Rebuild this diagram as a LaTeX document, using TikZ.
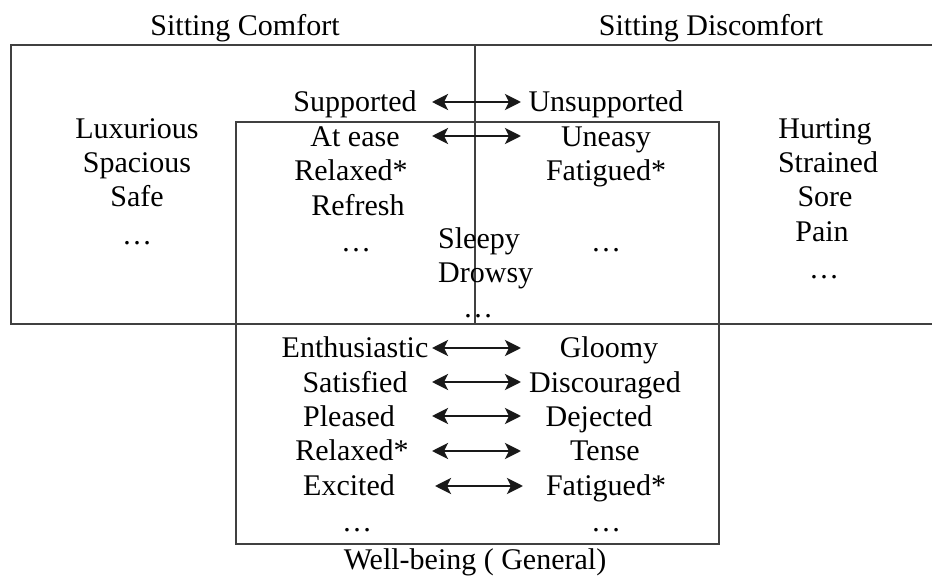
\documentclass[tikz,border=0pt]{standalone}
\usepackage{fontspec}
\setmainfont{Liberation Serif}
\usepackage{xcolor}
\usepackage{tikz}
\usetikzlibrary{arrows.meta}
\tikzstyle{term} = [anchor=base, inner sep=0pt, text=black]
\tikzstyle{frame} = [draw=black!75, line width=2pt]
\tikzstyle{arrow} = [line width=2.8pt, draw=black!90, {Stealth[length=16pt,width=16pt,inset=4pt]}-{Stealth[length=16pt,width=16pt,inset=4pt]}]

\begin{document}
\begin{tikzpicture}[x=1pt, y=-1pt, font=\fontsize{30}{36}\selectfont]
  \useasboundingbox (0,0) rectangle (932,577);

  % frames
  \draw [frame] (932,45) -- (11,45) -- (11,324) -- (932,324);
  \draw [frame] (475,45) -- (475,324);
  \draw [frame] (236,122) rectangle (719,544);

  % headings
  \node (comfort) [term] at (245,36) {Sitting Comfort};
  \node (discomfort) [term] at (711,36) {Sitting Discomfort};
  \node (wellbeing) [term] at (475,569) {Well-being ( General)};

  % sitting comfort only
  \node (luxurious) [term] at (137,139) {Luxurious};
  \node (spacious) [term] at (137,173) {Spacious};
  \node (safe) [term] at (137,207) {Safe};
  \node (comf dots) [term] at (137,245) {\dots};

  % sitting discomfort only
  \node (hurting) [term] at (825,139) {Hurting};
  \node (strained) [term] at (828,173) {Strained};
  \node (sore) [term] at (825,207) {Sore};
  \node (pain) [term] at (822,242) {Pain};
  \node (disc dots) [term] at (824,279) {\dots};

  % comfort / discomfort pairs
  \node (supported) [term] at (355,112) {Supported};
  \node (unsupported) [term] at (606,112) {Unsupported};
  \node (at ease) [term] at (355,147) {At ease};
  \node (uneasy) [term] at (606,147) {Uneasy};
  \node (relaxed a) [term] at (351,181) {Relaxed*};
  \node (fatigued a) [term] at (606,181) {Fatigued*};
  \node (refresh) [term] at (358,216) {Refresh};
  \node (left dots a) [term] at (356,252) {\dots};
  \node (right dots a) [term] at (606,252) {\dots};

  % middle
  \node (sleepy) [term, anchor=base west] at (438,249) {Sleepy};
  \node (drowsy) [term, anchor=base west] at (438,283) {Drowsy};
  \node (mid dots) [term] at (478,318) {\dots};

  % well-being pairs
  \node (enthusiastic) [term] at (355,357) {Enthusiastic};
  \node (gloomy) [term] at (609,357) {Gloomy};
  \node (satisfied) [term] at (355,392) {Satisfied};
  \node (discouraged) [term] at (605,392) {Discouraged};
  \node (pleased) [term] at (349,426) {Pleased};
  \node (dejected) [term] at (599,426) {Dejected};
  \node (relaxed b) [term] at (352,460) {Relaxed*};
  \node (tense) [term] at (605,460) {Tense};
  \node (excited) [term] at (349,495) {Excited};
  \node (fatigued b) [term] at (606,495) {Fatigued*};
  \node (left dots b) [term] at (357,531) {\dots};
  \node (right dots b) [term] at (606,531) {\dots};

  % arrow ends
  \coordinate (a1l) at (432,102);  \coordinate (a1r) at (521,102);
  \coordinate (a2l) at (432,136);  \coordinate (a2r) at (521,136);
  \coordinate (b1l) at (432,348);  \coordinate (b1r) at (521,348);
  \coordinate (b2l) at (432,382);  \coordinate (b2r) at (521,382);
  \coordinate (b3l) at (432,416);  \coordinate (b3r) at (521,416);
  \coordinate (b4l) at (432,451);  \coordinate (b4r) at (521,451);
  \coordinate (b5l) at (435,486);  \coordinate (b5r) at (523,486);

  \draw [arrow] (a1l) -- (a1r);
  \draw [arrow] (a2l) -- (a2r);
  \draw [arrow] (b1l) -- (b1r);
  \draw [arrow] (b2l) -- (b2r);
  \draw [arrow] (b3l) -- (b3r);
  \draw [arrow] (b4l) -- (b4r);
  \draw [arrow] (b5l) -- (b5r);

\end{tikzpicture}
\end{document}
